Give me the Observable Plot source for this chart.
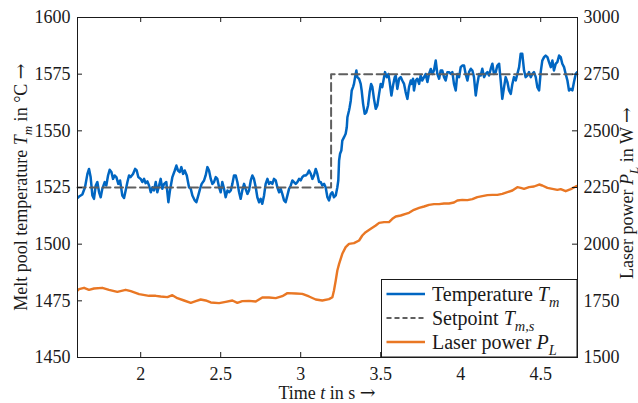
<!DOCTYPE html>
<html>
<head>
<meta charset="utf-8">
<script src="https://cdn.jsdelivr.net/npm/d3@7"></script>
<script src="https://cdn.jsdelivr.net/npm/@observablehq/plot@0.6"></script>
<style>
  html, body { margin: 0; padding: 0; background: #fff; }
  #chart { width: 638px; height: 403px; }
</style>
</head>
<body>
<div id="chart"></div>
<script>
// ---- data ----
const tempT = [1.605,1.615,1.635,1.652,1.667,1.677,1.687,1.698,1.708,1.719,1.729,1.740,1.750,1.760,1.775,1.785,1.796,1.806,1.817,1.827,1.837,1.848,1.860,1.871,1.885,1.896,1.906,1.917,1.927,1.937,1.952,1.965,1.975,1.985,2.000,2.010,2.021,2.031,2.042,2.052,2.063,2.073,2.083,2.094,2.104,2.115,2.125,2.135,2.146,2.160,2.173,2.183,2.198,2.213,2.223,2.233,2.244,2.254,2.265,2.275,2.288,2.302,2.313,2.323,2.338,2.348,2.360,2.371,2.381,2.396,
2.406,2.417,2.427,2.438,2.448,2.458,2.469,2.479,2.490,2.500,2.510,2.521,2.531,2.542,2.552,2.563,2.573,2.583,2.594,2.604,2.615,2.625,2.635,2.646,2.656,2.667,2.677,2.688,2.698,2.708,2.719,2.729,2.740,2.750,2.760,2.771,2.781,2.792,2.802,2.813,2.823,2.833,2.844,2.854,2.865,2.875,2.885,2.896,2.906,2.917,2.927,2.938,2.948,2.958,2.969,2.979,2.990,3.000,3.010,3.021,3.031,3.042,3.052,3.063,3.073,3.083,3.094,3.104,3.115,3.125,3.135,3.146,3.156,3.167,3.177,3.188,3.198,3.208,
3.219,3.229,3.235,3.240,3.246,3.254,3.260,3.271,3.281,3.288,3.292,3.302,3.306,3.313,3.319,3.327,3.333,3.340,3.348,3.354,3.365,3.375,3.381,3.390,3.400,3.410,3.421,3.431,3.440,3.448,3.458,3.469,3.479,3.490,3.500,3.510,3.521,3.527,3.538,3.548,3.556,3.567,3.577,3.588,3.594,3.604,3.615,3.625,3.635,3.646,3.656,3.667,3.677,3.688,3.694,3.702,3.708,3.719,3.729,3.740,3.750,3.760,3.771,3.781,3.792,3.802,3.813,3.823,3.833,3.844,3.854,3.865,3.875,3.885,3.896,3.906,3.917,3.927,3.938,3.948,3.958,3.969,
3.979,3.990,4.000,4.010,4.021,4.031,4.042,4.052,4.063,4.073,4.083,4.094,4.104,4.115,4.125,4.135,4.146,4.156,4.167,4.177,4.188,4.198,4.208,4.219,4.229,4.240,4.250,4.260,4.271,4.281,4.292,4.302,4.313,4.323,4.333,4.344,4.354,4.365,4.375,4.385,4.396,4.406,4.417,4.427,4.438,4.448,4.458,4.469,4.479,4.490,4.500,4.510,4.521,4.531,4.542,4.552,4.563,4.573,4.583,4.594,4.604,4.615,4.625,4.635,4.646,4.656,4.667,4.677,4.688,4.698,4.708,4.719,4.730];
const tempV = [1520.4,1521.0,1521.9,1525.1,1531.0,1533.2,1529.6,1521.5,1520.0,1525.9,1527.4,1522.9,1520.7,1524.4,1527.4,1525.9,1530.3,1532.8,1531.8,1528.8,1530.3,1529.6,1526.6,1528.1,1521.5,1520.4,1523.7,1527.4,1530.3,1529.6,1531.0,1533.2,1532.5,1529.6,1528.8,1527.4,1528.8,1526.9,1527.7,1525.9,1522.9,1525.1,1523.7,1527.4,1522.9,1525.9,1528.8,1524.4,1526.6,1527.4,1518.5,1523.7,1529.6,1532.5,1534.7,1532.5,1531.8,1534.0,1531.0,1532.5,1530.3,1525.1,1524.4,1521.5,1519.3,1518.5,1521.5,1524.4,1526.6,1528.1,
1530.3,1534.0,1532.5,1528.8,1526.6,1527.4,1529.6,1528.8,1525.1,1522.9,1527.4,1524.4,1520.7,1523.7,1522.9,1523.7,1526.6,1530.3,1530.3,1527.4,1522.9,1520.0,1523.7,1526.6,1524.4,1522.2,1523.7,1528.1,1530.3,1528.8,1525.1,1520.7,1518.5,1520.0,1517.8,1521.5,1526.6,1528.8,1526.6,1527.4,1526.6,1528.8,1528.1,1525.1,1522.9,1524.4,1522.2,1519.3,1518.5,1521.5,1524.4,1525.9,1528.1,1527.4,1526.6,1527.4,1528.8,1528.1,1529.6,1530.3,1530.3,1531.0,1532.5,1531.0,1528.8,1530.3,1533.2,1531.0,1527.4,1527.4,1525.9,1526.6,1525.1,1520.7,1519.3,1522.2,1522.9,1520.7,
1521.5,1525.1,1528.1,1536.9,1539.9,1541.3,1545.7,1547.2,1548.7,1551.6,1556.0,1559.0,1560.4,1563.4,1567.8,1569.3,1570.7,1573.7,1576.6,1573.7,1572.9,1570.7,1567.8,1561.9,1557.5,1558.2,1561.2,1567.1,1570.7,1569.3,1564.1,1559.7,1561.2,1566.3,1570.7,1569.3,1573.7,1575.9,1573.7,1575.1,1571.5,1565.6,1570.0,1573.7,1574.4,1568.5,1573.0,1573.7,1572.2,1570.7,1567.1,1564.1,1569.3,1572.2,1570.7,1573.0,1567.8,1572.2,1573.0,1570.7,1574.4,1572.2,1573.7,1575.1,1571.5,1575.1,1577.3,1575.1,1576.6,1581.0,1575.1,1573.0,1576.6,1576.6,1573.7,1572.2,1575.9,1575.9,1575.1,1575.9,1570.7,1567.8,
1575.1,1573.7,1578.1,1578.8,1578.8,1575.1,1572.2,1575.9,1577.4,1576.6,1573.7,1565.6,1570.7,1575.1,1574.4,1577.4,1573.7,1575.1,1575.9,1574.4,1577.4,1579.6,1575.1,1575.9,1578.8,1579.6,1572.2,1564.1,1569.3,1573.7,1571.5,1567.8,1566.3,1570.7,1573.7,1572.2,1575.1,1578.1,1584.0,1584.0,1576.6,1573.7,1574.4,1575.9,1573.7,1575.1,1575.9,1573.7,1569.3,1567.8,1575.9,1581.0,1582.5,1583.2,1582.5,1580.3,1578.1,1581.0,1576.6,1579.6,1580.3,1583.2,1582.5,1579.6,1578.1,1575.1,1572.2,1567.8,1568.5,1567.8,1571.5,1575.1,1576.0];

const setT = [1.605, 3.19, 4.73];
const setV = [1525, 1575, 1575];

const powerT = [1.605,1.615,1.646,1.677,1.708,1.760,1.802,1.854,1.906,1.938,1.990,2.052,2.094,2.125,2.167,2.198,2.229,2.271,2.313,2.344,2.375,2.406,2.438,2.490,2.531,2.573,2.604,2.635,2.677,2.719,2.760,2.802,2.844,2.885,2.917,2.969,3.010,3.052,3.094,3.135,3.177,3.198,
3.208,3.219,3.229,3.240,3.260,3.281,3.302,3.333,3.365,3.385,3.406,3.438,3.469,3.490,3.521,3.552,3.573,3.594,3.625,3.656,3.677,3.708,3.740,3.771,3.802,3.833,3.865,3.896,3.927,3.958,3.979,4.010,4.042,4.073,4.104,4.135,4.167,4.198,4.229,4.260,4.292,4.323,4.354,4.375,4.396,4.427,4.458,4.490,4.510,4.542,4.573,4.604,4.625,4.656,4.688,4.719,4.730];
const powerV = [1795.6,1801.5,1807.4,1798.6,1804.5,1807.4,1798.6,1789.8,1798.6,1792.7,1779.4,1772.1,1772.1,1769.2,1766.2,1775.0,1761.8,1751.5,1741.2,1748.6,1755.9,1751.5,1742.7,1739.7,1745.6,1751.5,1741.2,1748.6,1750.0,1747.1,1764.7,1764.7,1761.8,1770.6,1783.9,1782.4,1780.9,1769.2,1755.9,1751.5,1757.4,1766.2,
1795.6,1839.7,1883.8,1913.2,1957.4,1986.8,2001.5,2004.4,2016.2,2038.2,2052.9,2067.6,2082.4,2094.1,2097.1,2097.1,2111.8,2122.1,2126.5,2133.8,2138.2,2151.5,2160.3,2166.2,2173.5,2176.5,2176.5,2179.4,2179.4,2183.8,2192.6,2195.6,2194.1,2198.5,2207.4,2211.8,2216.2,2217.6,2217.6,2222.1,2229.4,2236.8,2251.5,2248.5,2244.1,2251.5,2254.4,2263.2,2258.8,2248.5,2244.1,2239.7,2242.6,2233.8,2242.6,2254.4,2257.0];

const xTicks = [2, 2.5, 3, 3.5, 4, 4.5];
const tempTicks = [1450, 1475, 1500, 1525, 1550, 1575, 1600];
const powerTicks = [1500, 1750, 2000, 2250, 2500, 2750, 3000];

const xDomain = [1.605, 4.73];
const tempDomain = [1450, 1600];
const powerDomain = [1500, 3000];

// ---- colours ----
const BLUE = "#0066c2", ORANGE = "#e97724", GREY = "#5f5f5f", INK = "#1a1a1a";

// map power onto the temperature scale (right axis)
const p2t = p => tempDomain[0] + (p - powerDomain[0]) * (tempDomain[1] - tempDomain[0]) / (powerDomain[1] - powerDomain[0]);

const temp = tempT.map((t, i) => ({t, v: tempV[i]}));
const setp = setT.map((t, i) => ({t, v: setV[i]}));
const power = powerT.map((t, i) => ({t, v: p2t(powerV[i])}));

const W = 638, H = 403, ML = 77, MR = 61, MT = 17, MB = 46;
const innerW = W - ML - MR, innerH = H - MT - MB;
const TICK = 5;

const plot = Plot.plot({
  width: W, height: H,
  marginLeft: ML, marginRight: MR, marginTop: MT, marginBottom: MB,
  style: {fontFamily: "'Liberation Serif', 'Times New Roman', serif", fontSize: "18px", color: INK, background: "#fff"},
  x: {domain: xDomain},
  y: {domain: tempDomain},
  marks: [
    Plot.line(temp, {x: "t", y: "v", stroke: BLUE, strokeWidth: 2.5, clip: true}),
    Plot.line(setp, {x: "t", y: "v", curve: "step-after", stroke: GREY, strokeWidth: 2, strokeDasharray: "8,4.5"}),
    Plot.line(power, {x: "t", y: "v", stroke: ORANGE, strokeWidth: 2.4, clip: true}),
    Plot.frame({stroke: INK, strokeWidth: 1}),
    Plot.tickX(xTicks, {x: d => d, insetTop: innerH - TICK, stroke: INK}),
    Plot.tickX(xTicks, {x: d => d, insetBottom: innerH - TICK, stroke: INK}),
    Plot.tickY(tempTicks, {y: d => d, insetRight: innerW - TICK, stroke: INK}),
    Plot.tickY(tempTicks, {y: d => d, insetLeft: innerW - TICK, stroke: INK}),
    Plot.axisX(xTicks, {anchor: "bottom", tickSize: 0, tickPadding: 10, tickFormat: d => String(d), label: null, fill: INK}),
    Plot.axisY(tempTicks, {anchor: "left", tickSize: 0, tickPadding: 7, tickFormat: d => String(d), label: null, fill: INK}),
    Plot.axisY(powerTicks.map(p2t), {anchor: "right", tickSize: 0, tickPadding: 6,
      tickFormat: d => String(Math.round(powerDomain[0] + (d - tempDomain[0]) * (powerDomain[1] - powerDomain[0]) / (tempDomain[1] - tempDomain[0]))),
      label: null, fill: INK})
  ]
});

document.getElementById("chart").appendChild(plot);

// ---- rich text helpers (axis titles & legend) ----
const svg = d3.select(plot);
function rich(sel, parts, size) {
  let shifted = 0;
  for (const p of parts) {
    const ts = sel.append("tspan").text(p.t);
    if (p.i) ts.attr("font-style", "italic");
    if (p.arrow) ts.attr("font-family", "'DejaVu Serif', serif").attr("font-size", size * 1.05);
    const want = p.sub ? size * 0.3 : 0;
    if (want !== shifted) { ts.attr("dy", want - shifted); shifted = want; }
    if (p.sub) ts.attr("font-size", size * 0.72);
  }
  return sel;
}
const FS = 18;
const labels = svg.append("g")
  .attr("font-family", "'Liberation Serif', 'Times New Roman', serif")
  .attr("font-size", FS).attr("fill", INK);

rich(labels.append("text").attr("text-anchor", "middle")
  .attr("x", ML + innerW / 2).attr("y", 398.5),
  [{t: "Time "}, {t: "t", i: true}, {t: " in s "}, {t: "→", arrow: true}], FS);

rich(labels.append("text").attr("text-anchor", "middle")
  .attr("transform", `translate(27,${MT + innerH / 2}) rotate(-90)`),
  [{t: "Melt pool temperature "}, {t: "T", i: true}, {t: "m", i: true, sub: true}, {t: " in °C "}, {t: "→", arrow: true}], FS);

rich(labels.append("text").attr("text-anchor", "middle")
  .attr("transform", `translate(633,${MT + innerH / 2 + 6}) rotate(-90)`),
  [{t: "Laser power "}, {t: "P", i: true}, {t: "L", i: true, sub: true}, {t: " in W "}, {t: "→", arrow: true}], FS);

// ---- legend ----
const LFS = 20;
const lg = svg.append("g")
  .attr("font-family", "'Liberation Serif', 'Times New Roman', serif")
  .attr("font-size", LFS).attr("fill", INK).attr("text-anchor", "start");
lg.append("rect").attr("x", 381.5).attr("y", 279.5).attr("width", ML + innerW - 381.5).attr("height", MT + innerH - 279.5)
  .attr("fill", "#fff").attr("stroke", INK).attr("stroke-width", 1);
const items = [
  {stroke: BLUE, dash: null, w: 2.5, parts: [{t: "Temperature "}, {t: "T", i: true}, {t: "m", i: true, sub: true}]},
  {stroke: GREY, dash: "5,3", w: 2, parts: [{t: "Setpoint "}, {t: "T", i: true}, {t: "m,s", i: true, sub: true}]},
  {stroke: ORANGE, dash: null, w: 2.4, parts: [{t: "Laser power "}, {t: "P", i: true}, {t: "L", i: true, sub: true}]}
];
items.forEach((it, k) => {
  const yb = 300.5 + k * 24;
  const ln = lg.append("line").attr("x1", 386.5).attr("x2", 425).attr("y1", yb - 6.5).attr("y2", yb - 6.5)
    .attr("stroke", it.stroke).attr("stroke-width", it.w).attr("fill", "none");
  if (it.dash) ln.attr("stroke-dasharray", it.dash);
  rich(lg.append("text").attr("x", 432).attr("y", yb).attr("text-anchor", "start"), it.parts, LFS);
});
</script>
</body>
</html>
